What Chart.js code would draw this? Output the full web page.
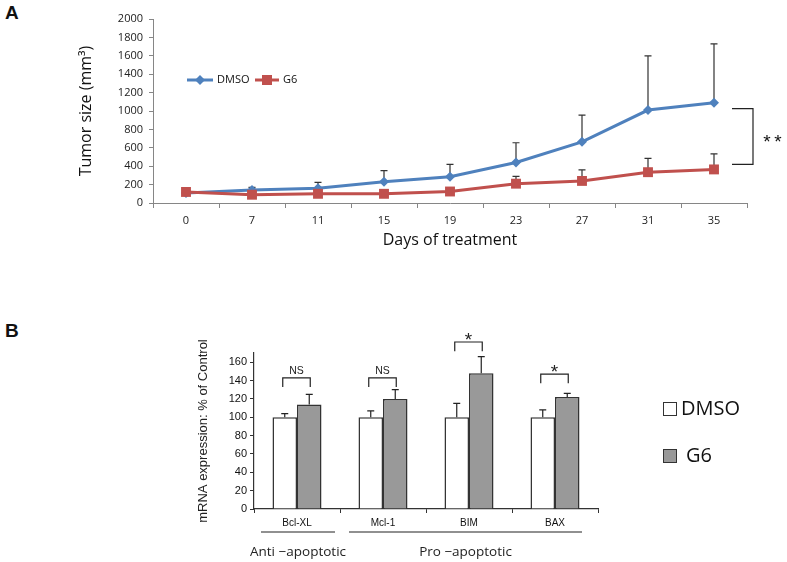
<!DOCTYPE html>
<html>
<head>
<meta charset="utf-8">
<script src="https://cdn.jsdelivr.net/npm/chart.js@4.4.1/dist/chart.umd.min.js"></script>
<style>
body{margin:0;background:#fff;width:787px;height:562px;position:relative;overflow:hidden}
canvas{position:absolute;left:0}
#chartA{top:0}
#chartB{top:270px}
.panel{position:absolute;font:bold 19px "Liberation Sans",Arial,sans-serif;color:#111}
</style>
</head>
<body>
<div class="panel" style="left:5px;top:2px">A</div>
<div class="panel" style="left:5px;top:320px">B</div>
<canvas id="chartA" width="787" height="262"></canvas>
<canvas id="chartB" width="787" height="292"></canvas>
<script>
// panel A - tumor growth
var days = ['0','7','11','15','19','23','27','31','35'];
var dmsoSize = [110,140,160,232,286,440,665,1010,1090];
var dmsoErr = [10,30,65,119,134,215,290,590,640];
var g6Size = [120,90,100,100,125,210,240,335,365];
var g6Err = [10,10,10,10,15,80,120,150,170];
var sigA = [1025,420];   // bracket ends (mm3)
var sigAText = '*';

// panel B - mRNA expression
var genes = ['Bcl-XL','Mcl-1','BIM','BAX'];
var dmsoExpr = [100,100,100,100];
var dmsoExprErr = [4,7,15,8];
var g6Expr = [114,120,148,122];
var g6ExprErr = [11,10,18,4];
var sigLabels = ['NS','NS','*','*'];
var sigTops = [143,143,182,147];
var groupNames = ['Anti \u2212apoptotic','Pro \u2212apoptotic'];
var groupSpans = [[0,0],[1,3]];
var exprTicks = [0,20,40,60,80,100,120,140,160];

var BLUE = '#4F81BD', RED = '#C0504D', AXIS = '#868686';

// error bars drawn under the markers
var errBarsA = {
  id:'errBarsA',
  beforeDatasetsDraw:function(chart){
    var ctx = chart.ctx, y = chart.scales.y;
    ctx.save();
    ctx.strokeStyle = '#333';
    ctx.lineWidth = 1.2;
    [dmsoErr, g6Err].forEach(function(errs, di){
      var vals = chart.data.datasets[di].data;
      chart.getDatasetMeta(di).data.forEach(function(pt, i){
        var top = y.getPixelForValue(vals[i] + errs[i]);
        ctx.beginPath();
        ctx.moveTo(pt.x, pt.y); ctx.lineTo(pt.x, top);
        ctx.moveTo(pt.x - 3.5, top); ctx.lineTo(pt.x + 3.5, top);
        ctx.stroke();
      });
    });
    ctx.restore();
  }
};

var extrasA = {
  id:'extrasA',
  afterDraw:function(chart){
    var ctx = chart.ctx, y = chart.scales.y, area = chart.chartArea;
    ctx.save();
    // legend
    ctx.lineWidth = 3;
    ctx.strokeStyle = BLUE;
    ctx.beginPath(); ctx.moveTo(187, 80); ctx.lineTo(213, 80); ctx.stroke();
    ctx.fillStyle = BLUE;
    ctx.beginPath(); ctx.moveTo(195, 80); ctx.lineTo(200, 75); ctx.lineTo(205, 80); ctx.lineTo(200, 85); ctx.closePath(); ctx.fill();
    ctx.strokeStyle = RED;
    ctx.beginPath(); ctx.moveTo(255, 80); ctx.lineTo(279, 80); ctx.stroke();
    ctx.fillStyle = RED;
    ctx.fillRect(262, 75, 10, 10);
    ctx.fillStyle = '#111';
    ctx.font = '11px "Open Sans"';
    ctx.textBaseline = 'middle';
    ctx.fillText('DMSO', 217, 80);
    ctx.fillText('G6', 283, 80);
    // significance bracket
    var t = y.getPixelForValue(sigA[0]), b = y.getPixelForValue(sigA[1]);
    var x0 = area.right - 15, x1 = area.right + 6;
    ctx.strokeStyle = '#222';
    ctx.lineWidth = 1.2;
    ctx.beginPath();
    ctx.moveTo(x0, t); ctx.lineTo(x1, t); ctx.lineTo(x1, b); ctx.lineTo(x0, b);
    ctx.stroke();
    ctx.font = '19px "Liberation Sans"';
    ctx.textAlign = 'center';
    ctx.textBaseline = 'alphabetic';
    var my = (t + b) / 2 + 11;
    ctx.fillText(sigAText, x1 + 14, my);
    ctx.fillText(sigAText, x1 + 25, my);
    ctx.restore();
  }
};

function plain(v){ return String(v); }

new Chart(document.getElementById('chartA'), {
  type:'line',
  data:{
    labels:days,
    datasets:[
      {label:'DMSO', data:dmsoSize, borderColor:BLUE, backgroundColor:BLUE, borderWidth:3,
       pointStyle:'rectRot', pointRadius:5, pointBorderWidth:0, order:1},
      {label:'G6', data:g6Size, borderColor:RED, backgroundColor:RED, borderWidth:3,
       pointStyle:'rect', pointRadius:7, pointBorderWidth:0, order:0}
    ]
  },
  options:{
    responsive:false,
    animation:false,
    layout:{padding:{left:73,right:40,top:19,bottom:8}},
    plugins:{legend:{display:false},tooltip:{enabled:false}},
    scales:{
      x:{
        offset:true,
        grid:{offset:true, drawOnChartArea:false, tickLength:5, color:AXIS},
        border:{color:AXIS},
        ticks:{padding:6, color:'#222', font:{family:'Open Sans', size:11}},
        title:{display:true, text:'Days of treatment', color:'#111', font:{family:'Open Sans', size:16}},
        afterFit:function(s){ s.height = 51; }
      },
      y:{
        min:0, max:2000,
        grid:{drawOnChartArea:false, tickLength:4, color:AXIS},
        border:{color:AXIS},
        ticks:{stepSize:200, padding:6, color:'#222', font:{family:'Open Sans', size:11}, callback:plain},
        title:{display:true, text:'Tumor size (mm\u00b3)', color:'#111', font:{family:'Open Sans', size:16}},
        afterFit:function(s){ s.width = 80; }
      }
    }
  },
  plugins:[errBarsA, extrasA]
});

var extrasB = {
  id:'extrasB',
  afterDatasetsDraw:function(chart){
    var ctx = chart.ctx, x = chart.scales.x, y = chart.scales.y;
    var m0 = chart.getDatasetMeta(0).data, m1 = chart.getDatasetMeta(1).data;
    ctx.save();
    ctx.strokeStyle = '#222';
    ctx.lineWidth = 1.2;
    // error bars
    [[m0, dmsoExpr, dmsoExprErr],[m1, g6Expr, g6ExprErr]].forEach(function(s){
      s[0].forEach(function(bar, i){
        var top = y.getPixelForValue(s[1][i] + s[2][i]);
        ctx.beginPath();
        ctx.moveTo(bar.x, bar.y); ctx.lineTo(bar.x, top);
        ctx.moveTo(bar.x - 3.5, top); ctx.lineTo(bar.x + 3.5, top);
        ctx.stroke();
      });
    });
    // significance brackets
    ctx.fillStyle = '#222';
    ctx.textAlign = 'center';
    ctx.textBaseline = 'alphabetic';
    sigTops.forEach(function(v, i){
      var t = y.getPixelForValue(v), b = y.getPixelForValue(v - 10);
      var xa = m0[i].x - 2, xb = m1[i].x + 1;
      ctx.beginPath();
      ctx.moveTo(xa, b); ctx.lineTo(xa, t); ctx.lineTo(xb, t); ctx.lineTo(xb, b);
      ctx.stroke();
      var xc = (xa + xb) / 2;
      if (sigLabels[i] === '*') {
        ctx.font = '19px "Liberation Sans"';
        ctx.fillText(sigLabels[i], xc, t + 4);
      } else {
        ctx.font = '10.5px "Liberation Sans"';
        ctx.fillText(sigLabels[i], xc, t - 4);
      }
    });
    // group underlines and names
    var half = (x.getPixelForValue(1) - x.getPixelForValue(0)) / 2;
    ctx.font = '13.5px "Open Sans"';
    ctx.textBaseline = 'middle';
    groupSpans.forEach(function(g, i){
      var a = x.getPixelForValue(g[0]) - half + 7, c = x.getPixelForValue(g[1]) + half - 16;
      if (i === 0) c = x.getPixelForValue(g[1]) + half - 5;
      else a = x.getPixelForValue(g[0]) - half + 9;
      ctx.beginPath(); ctx.moveTo(a, 262); ctx.lineTo(c, 262); ctx.stroke();
      ctx.fillText(groupNames[i], (a + c) / 2, 282);
    });
    // legend
    ctx.lineWidth = 1;
    ctx.strokeStyle = '#333';
    ctx.fillStyle = '#fff';
    ctx.fillRect(663.5, 132.5, 13, 13); ctx.strokeRect(663.5, 132.5, 13, 13);
    ctx.fillStyle = '#999';
    ctx.fillRect(663.5, 179.5, 13, 13); ctx.strokeRect(663.5, 179.5, 13, 13);
    ctx.fillStyle = '#111';
    ctx.textAlign = 'left';
    ctx.font = '20px "Open Sans"';
    ctx.fillText('DMSO', 681, 139);
    ctx.fillText('G6', 686, 186);
    ctx.restore();
  }
};

new Chart(document.getElementById('chartB'), {
  type:'bar',
  data:{
    labels:genes,
    datasets:[
      {label:'DMSO', data:dmsoExpr, backgroundColor:'#ffffff', borderColor:'#333', borderWidth:1.5,
       categoryPercentage:0.57, barPercentage:1},
      {label:'G6', data:g6Expr, backgroundColor:'#999999', borderColor:'#333', borderWidth:1.5,
       categoryPercentage:0.57, barPercentage:1}
    ]
  },
  options:{
    responsive:false,
    animation:false,
    layout:{padding:{left:192,right:189,top:83,bottom:0}},
    plugins:{legend:{display:false},tooltip:{enabled:false}},
    scales:{
      x:{
        grid:{offset:true, drawOnChartArea:false, tickLength:4, color:'#333'},
        border:{color:'#333', width:1.2},
        ticks:{padding:4, color:'#111', font:{family:'Liberation Sans', size:10}},
        afterFit:function(s){ s.height = 53; }
      },
      y:{
        min:0, max:170,
        afterBuildTicks:function(s){ s.ticks = exprTicks.map(function(v){ return {value:v}; }); },
        grid:{drawOnChartArea:false, tickLength:4, color:'#333'},
        border:{color:'#333', width:1.2},
        ticks:{padding:3, color:'#111', font:{family:'Liberation Sans', size:11}, callback:plain},
        title:{display:true, text:'mRNA expression: % of Control', color:'#222', font:{family:'Liberation Sans', size:13}},
        afterFit:function(s){ s.width = 62; }
      }
    }
  },
  plugins:[extrasB]
});
</script>
</body>
</html>
